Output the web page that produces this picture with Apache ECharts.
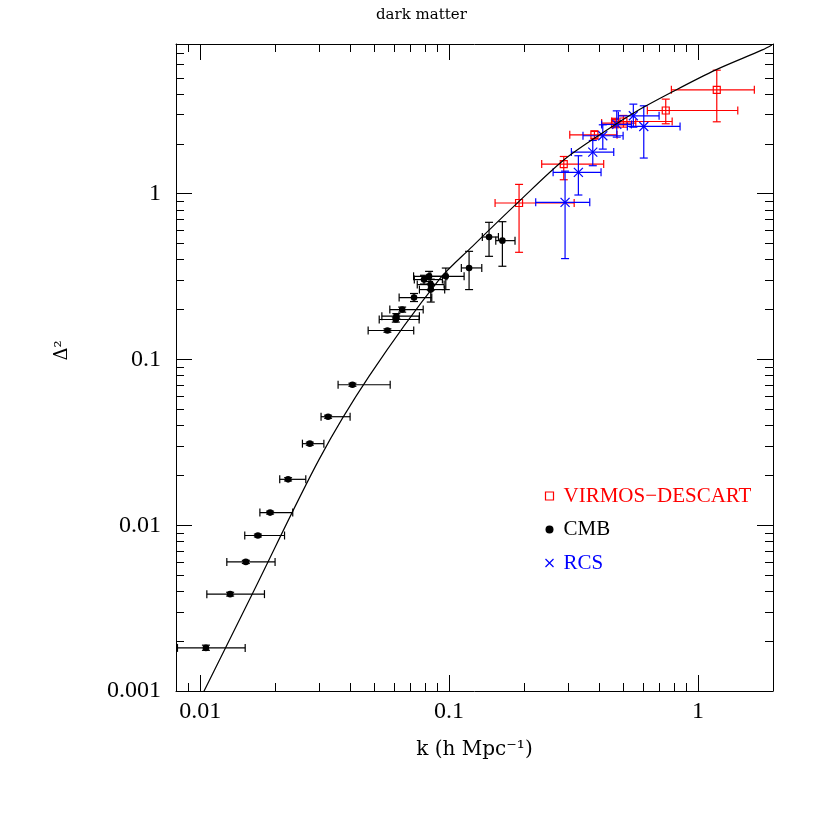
<!DOCTYPE html>
<html>
<head>
<meta charset="utf-8">
<script src="https://cdn.jsdelivr.net/npm/echarts@6/dist/echarts.min.js"></script>
<style>
  html, body { margin: 0; padding: 0; background: #fff; }
  #chart { width: 817px; height: 817px; }
</style>
</head>
<body>
<div id="chart"></div>
<script>
  // axis ranges and ticks (real units, log axes)
  const xRange = [0.008, 2];
  const yRange = [0.001, 8];
  const xMajor = [0.01, 0.1, 1];
  const xMinor = [0.008, 0.009, 0.02, 0.03, 0.04, 0.05, 0.06, 0.07, 0.08, 0.09,
                  0.2, 0.3, 0.4, 0.5, 0.6, 0.7, 0.8, 0.9, 2];
  const yMajor = [0.001, 0.01, 0.1, 1];
  const yMinor = [0.002, 0.003, 0.004, 0.005, 0.006, 0.007, 0.008, 0.009,
                  0.02, 0.03, 0.04, 0.05, 0.06, 0.07, 0.08, 0.09,
                  0.2, 0.3, 0.4, 0.5, 0.6, 0.7, 0.8, 0.9, 2, 3, 4, 5, 6, 7, 8];

  // model curve
  const curveK = [0.01031, 0.01631, 0.03006, 0.04773, 0.0912, 0.1241, 0.1910, 0.2896,
                  0.4127, 0.5797, 0.7884, 1.178, 1.812, 1.98];
  const curveD = [0.000982, 0.00393, 0.02497, 0.0793, 0.3034, 0.4815, 0.8987, 1.602,
                  2.321, 3.206, 4.116, 5.585, 7.37, 7.90];

  // [k, delta2, kLow, kHigh, delta2Low, delta2High]
  const cmbPoints = [
    [0.01055, 0.00182, 0.00811, 0.01517, 0.00176, 0.00189],
    [0.01320, 0.00384, 0.01064, 0.01813, 0.00374, 0.00394],
    [0.01526, 0.00601, 0.01280, 0.02000, 0.00588, 0.00614],
    [0.01706, 0.00867, 0.01511, 0.02183, 0.00850, 0.00884],
    [0.01910, 0.01192, 0.01738, 0.02355, 0.01168, 0.01216],
    [0.02256, 0.01892, 0.02088, 0.02657, 0.01850, 0.01935],
    [0.02758, 0.03105, 0.02576, 0.03141, 0.03040, 0.03170],
    [0.03266, 0.04515, 0.03060, 0.04003, 0.04420, 0.04610],
    [0.04090, 0.07038, 0.03582, 0.05800, 0.06890, 0.07190],
    [0.05653, 0.1495, 0.0473, 0.0721, 0.146, 0.153],
    [0.0611, 0.1742, 0.0524, 0.0758, 0.168, 0.180],
    [0.0614, 0.1824, 0.0537, 0.0760, 0.176, 0.189],
    [0.0648, 0.200, 0.0578, 0.0787, 0.193, 0.207],
    [0.0723, 0.2363, 0.0630, 0.0852, 0.2236, 0.250],
    [0.0793, 0.3033, 0.0725, 0.0940, 0.285, 0.322],
    [0.0831, 0.3175, 0.0720, 0.0980, 0.295, 0.340],
    [0.0844, 0.283, 0.0745, 0.0955, 0.262, 0.305],
    [0.0844, 0.264, 0.0760, 0.0960, 0.222, 0.285],
    [0.0970, 0.3175, 0.0844, 0.1149, 0.264, 0.356],
    [0.1203, 0.3566, 0.1120, 0.1353, 0.264, 0.449],
    [0.1447, 0.548, 0.136, 0.1578, 0.419, 0.672],
    [0.1637, 0.521, 0.154, 0.184, 0.365, 0.678]
  ];
  const virmosPoints = [
    [0.191, 0.879, 0.153, 0.318, 0.443, 1.138],
    [0.2888, 1.51, 0.2355, 0.4178, 1.214, 1.677],
    [0.3835, 2.267, 0.3053, 0.4727, 2.135, 2.396],
    [0.464, 2.667, 0.41, 0.5622, 2.50, 2.85],
    [0.5013, 2.727, 0.45, 0.787, 2.521, 2.965],
    [0.7417, 3.176, 0.6256, 1.444, 2.641, 3.72],
    [1.189, 4.232, 0.7813, 1.683, 2.715, 5.56]
  ];
  const rcsPoints = [
    [0.2923, 0.887, 0.2228, 0.3673, 0.406, 1.368],
    [0.3306, 1.345, 0.2617, 0.4077, 0.982, 1.694],
    [0.3777, 1.783, 0.3099, 0.4585, 1.475, 2.095],
    [0.4143, 2.236, 0.345, 0.500, 1.858, 2.604],
    [0.4715, 2.617, 0.41, 0.54, 2.195, 3.16],
    [0.5496, 2.951, 0.4786, 0.6974, 2.52, 3.47],
    [0.6053, 2.545, 0.52, 0.8467, 1.641, 3.39]
  ];

  const lg = Math.log10;
  const tickFont = 'Liberation Serif';
  const nameFont = 'DejaVu Serif';

  function fmtPow(v) {
    return String(parseFloat(Math.pow(10, v).toPrecision(1)));
  }

  // one axis per side for major ticks, one more for minor ticks
  function makeAxis(position, range, ticks, len, main) {
    return {
      type: 'value',
      position: position,
      min: lg(range[0]),
      max: lg(range[1]),
      axisLine: {show: main, onZero: false, lineStyle: {color: '#000', width: 1}},
      axisTick: {
        show: true, inside: true, length: len,
        customValues: ticks.map(lg),
        lineStyle: {color: '#000', width: 1}
      },
      axisLabel: {show: false},
      splitLine: {show: false}
    };
  }

  let xBottom = makeAxis('bottom', xRange, xMajor, 16, true);
  xBottom.axisLabel = {
    show: true, customValues: xMajor.map(lg), formatter: fmtPow, margin: 9,
    color: '#000', fontFamily: tickFont, fontSize: 24
  };
  xBottom.name = 'k (h Mpc⁻¹)';
  xBottom.nameLocation = 'middle';
  xBottom.nameGap = 49;
  xBottom.nameTextStyle = {color: '#000', fontFamily: nameFont, fontSize: 20};

  let yLeft = makeAxis('left', yRange, yMajor, 16, true);
  yLeft.axisLabel = {
    show: true, customValues: yMajor.map(lg), formatter: fmtPow, margin: 15,
    color: '#000', fontFamily: tickFont, fontSize: 24
  };
  yLeft.name = 'Δ²';
  yLeft.nameLocation = 'middle';
  yLeft.nameGap = 105;
  // push the name a little above the middle, as in the original
  yLeft.nameTextStyle = {color: '#000', fontFamily: nameFont, fontSize: 18, padding: [0, 0, 0, 34]};

  function errorBars(shape) {
    return function (params, api) {
      let c = api.coord([api.value(0), api.value(1)]);
      let xl = api.coord([api.value(2), api.value(1)]);
      let xh = api.coord([api.value(3), api.value(1)]);
      let yl = api.coord([api.value(0), api.value(4)]);
      let yh = api.coord([api.value(0), api.value(5)]);
      let color = api.visual('color');
      let cap = 4;
      let st = () => ({stroke: color, lineWidth: 1.2});
      let children = [
        {type: 'line', shape: {x1: xl[0], y1: c[1], x2: xh[0], y2: c[1]}, style: st()},
        {type: 'line', shape: {x1: xl[0], y1: c[1] - cap, x2: xl[0], y2: c[1] + cap}, style: st()},
        {type: 'line', shape: {x1: xh[0], y1: c[1] - cap, x2: xh[0], y2: c[1] + cap}, style: st()},
        {type: 'line', shape: {x1: c[0], y1: yl[1], x2: c[0], y2: yh[1]}, style: st()},
        {type: 'line', shape: {x1: c[0] - cap, y1: yl[1], x2: c[0] + cap, y2: yl[1]}, style: st()},
        {type: 'line', shape: {x1: c[0] - cap, y1: yh[1], x2: c[0] + cap, y2: yh[1]}, style: st()}
      ];
      if (shape === 'dot') {
        children.push({type: 'circle', shape: {cx: c[0], cy: c[1], r: 3.3}, style: {fill: color}});
      } else if (shape === 'square') {
        children.push({type: 'rect', shape: {x: c[0] - 3.5, y: c[1] - 3.5, width: 7, height: 7},
          style: {fill: 'none', stroke: color, lineWidth: 1.2}});
      } else {
        let s = 4.5;
        children.push({type: 'line', shape: {x1: c[0] - s, y1: c[1] - s, x2: c[0] + s, y2: c[1] + s}, style: st()});
        children.push({type: 'line', shape: {x1: c[0] - s, y1: c[1] + s, x2: c[0] + s, y2: c[1] - s}, style: st()});
      }
      return {type: 'group', children: children};
    };
  }

  function toLog(rows) {
    return rows.map(r => r.map(lg));
  }

  let chart = echarts.init(document.getElementById('chart'));
  let option = {
    backgroundColor: '#fff',
    animation: false,
    title: {
      text: 'dark matter', left: 371, top: 3,
      textStyle: {color: '#000', fontFamily: nameFont, fontSize: 15, fontWeight: 'normal'}
    },
    grid: {left: 176, right: 44, top: 44, bottom: 126, containLabel: false},
    legend: {
      orient: 'vertical', left: 538, top: 480,
      itemWidth: 8, itemHeight: 8, itemGap: 11.5,
      selectedMode: false,
      textStyle: {fontFamily: tickFont, fontSize: 21, lineHeight: 22, padding: [0, 0, 0, 5]},
      data: [
        {name: 'VIRMOS−DESCART', icon: 'rect',
         itemStyle: {color: '#fff', borderColor: '#ff0000', borderWidth: 1.2},
         textStyle: {color: '#ff0000'}},
        {name: 'CMB', icon: 'circle', itemStyle: {color: '#000'}, textStyle: {color: '#000'}},
        {name: 'RCS', icon: 'path://M0,0L10,10M10,0L0,10',
         itemStyle: {color: 'none', borderColor: '#0000ff', borderWidth: 1.2},
         textStyle: {color: '#0000ff'}}
      ]
    },
    xAxis: [
      xBottom,
      makeAxis('bottom', xRange, xMinor, 8, false),
      makeAxis('top', xRange, xMajor, 16, true),
      makeAxis('top', xRange, xMinor, 8, false)
    ],
    yAxis: [
      yLeft,
      makeAxis('left', yRange, yMinor, 8, false),
      makeAxis('right', yRange, yMajor, 16, true),
      makeAxis('right', yRange, yMinor, 8, false)
    ],
    series: [
      {
        name: 'model', type: 'line', smooth: 0.3, showSymbol: false, symbol: 'none',
        lineStyle: {color: '#000', width: 1.2},
        data: curveK.map((k, i) => [lg(k), lg(curveD[i])]),
        z: 3
      },
      {
        name: 'CMB', type: 'custom', itemStyle: {color: '#000'},
        renderItem: errorBars('dot'), data: toLog(cmbPoints), z: 2
      },
      {
        name: 'VIRMOS−DESCART', type: 'custom', itemStyle: {color: '#ff0000'},
        renderItem: errorBars('square'), data: toLog(virmosPoints), z: 2
      },
      {
        name: 'RCS', type: 'custom', itemStyle: {color: '#0000ff'},
        renderItem: errorBars('cross'), data: toLog(rcsPoints), z: 2
      }
    ]
  };
  chart.setOption(option);
</script>
</body>
</html>
